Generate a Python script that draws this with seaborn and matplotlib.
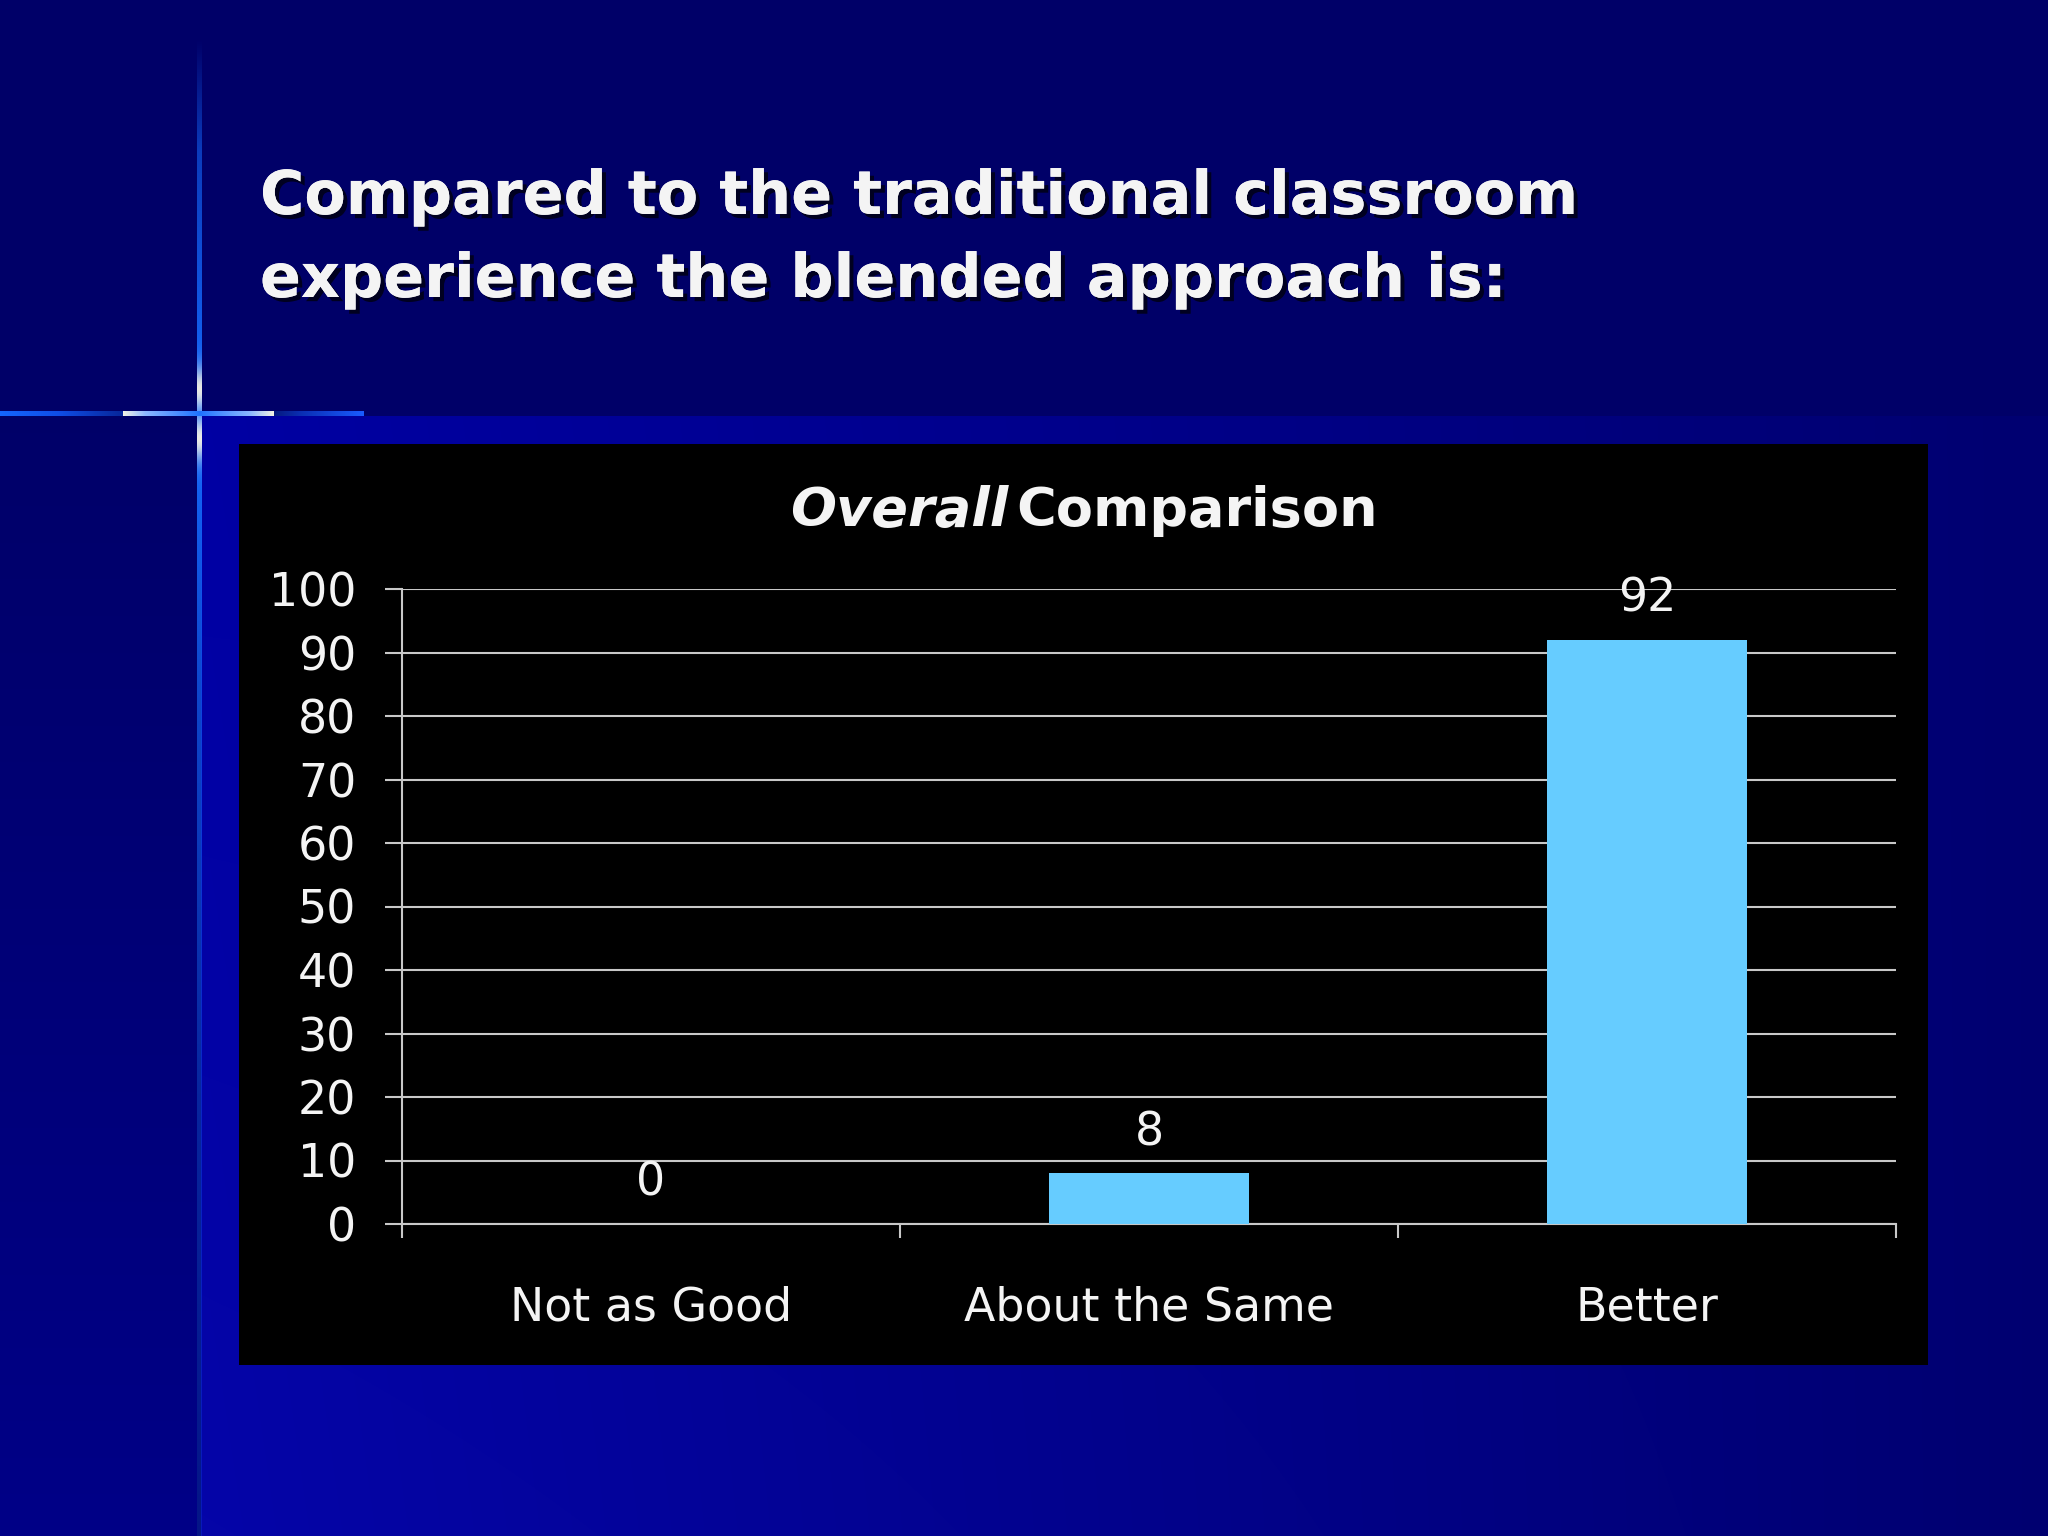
import numpy as np
import matplotlib
matplotlib.use('Agg')
import matplotlib.pyplot as plt
import matplotlib.patheffects as pe
from matplotlib.ticker import FixedLocator
import seaborn as sns

# ---- data ----
categories = ['Not as Good', 'About the Same', 'Better']
percent = [0, 8, 92]
y_ticks = [0, 10, 20, 30, 40, 50, 60, 70, 80, 90, 100]
title_lines = ['Compared to the traditional classroom',
               'experience the blended approach is:']

BAR = '#66CCFF'
GRID = '#c8c8c8'
TXT = '#f4f4f4'

sns.set_theme(style='white')
plt.rcParams['font.family'] = ['DejaVu Sans']

W, H = 2048, 1536
fig = plt.figure(figsize=(W / 100, H / 100), dpi=100)


def slide_background():
    img = np.zeros((H, W, 3))
    img[..., 2] = 0.41
    # lighter panel lower right
    xs = np.arange(W)
    ys = np.arange(H)
    f = np.clip((xs - 201) / (W - 201), 0, 1)
    g = (ys - 416) / (H - 416)
    blue = 0.64 - 0.20 * f[None, :] + 0.02 * g[:, None] * (1 - f[None, :])
    rg = 0.02 * (1 - f[None, :]) * np.clip(g[:, None], 0, 1)
    sub = (slice(416, H), slice(201, W))
    img[sub + (2,)] = blue[416:, 201:]
    img[sub + (0,)] = rg[416:, 201:]
    img[sub + (1,)] = rg[416:, 201:]
    # left strip lightens a little toward the bottom
    img[416:, :197, 2] = 0.41 + 0.12 * np.clip(g[416:, None], 0, 1)

    # vertical line
    d = ys - 413
    a = np.interp(ys, [40, 150, 413, 700, 1100, 1536], [0, 0.55, 1, 0.65, 0.35, 0.2])
    w = np.exp(-((np.abs(d) - 25) / 22.0) ** 2)
    col = np.array([0.08, 0.42, 1.0])[None, :] * (1 - w[:, None]) + np.array([0.95, 0.95, 0.92])[None, :] * w[:, None]
    for x in range(197, 202):
        img[:, x, :] = img[:, x, :] * (1 - a[:, None]) + col * a[:, None]

    # horizontal line
    hx = np.arange(0, 364)
    kx = [0, 60, 118, 122, 123, 145, 199, 250, 273, 274, 300, 363]
    kr = [0.08, 0.06, 0.03, 0.03, 0.95, 0.55, 0.12, 0.55, 0.95, 0.02, 0.04, 0.10]
    kg = [0.40, 0.30, 0.16, 0.16, 0.95, 0.72, 0.45, 0.72, 0.95, 0.10, 0.18, 0.36]
    kb = [1.00, 0.90, 0.62, 0.62, 0.90, 1.00, 1.00, 1.00, 0.90, 0.50, 0.70, 1.00]
    hcol = np.stack([np.interp(hx, kx, kr), np.interp(hx, kx, kg), np.interp(hx, kx, kb)], axis=1)
    for y in range(411, 416):
        img[y, :364, :] = hcol
    return np.clip(img, 0, 1)


bg = fig.add_axes([0, 0, 1, 1], zorder=-10)
bg.imshow(slide_background(), aspect='auto', interpolation='nearest')
bg.set_axis_off()

# slide title with drop shadow
shadow = [pe.withSimplePatchShadow(offset=(3, -3), shadow_rgbFace='#000018', alpha=0.9), pe.Normal()]
for i, line in enumerate(title_lines):
    fig.text(260 / W, 1 - (214 + 83 * i) / H, line, color=TXT, fontsize=43.5,
             fontweight='bold', va='baseline', ha='left', path_effects=shadow)

# black chart panel
panel = fig.add_axes([239 / W, 1 - 1365 / H, (1928 - 239) / W, (1365 - 444) / H], zorder=-5)
panel.set_facecolor('black')
panel.set_xticks([])
panel.set_yticks([])
for s in panel.spines.values():
    s.set_visible(False)

# chart title
fig.text(1008 / W, 1 - 526 / H, 'Overall', color=TXT, fontsize=39, fontweight='bold',
         fontstyle='italic', ha='right', va='baseline')
fig.text(1016 / W, 1 - 526 / H, 'Comparison', color=TXT, fontsize=39, fontweight='bold',
         ha='left', va='baseline')

# bar chart
ax = fig.add_axes([402 / W, 1 - 1224 / H, (1896 - 402) / W, (1224 - 589) / H])
ax.set_facecolor('none')
sns.barplot(x=categories, y=percent, color=BAR, saturation=1, width=0.4, ax=ax,
            edgecolor='none', zorder=3)
ax.set_ylim(0, 100)
ax.set_xlim(-0.5, len(categories) - 0.5)
ax.set_yticks(y_ticks)
ax.yaxis.grid(True, color=GRID, lw=1.5)
ax.xaxis.grid(False)
ax.set_axisbelow(True)
for side in ['top', 'right']:
    ax.spines[side].set_visible(False)
for side in ['left', 'bottom']:
    ax.spines[side].set_color(GRID)
    ax.spines[side].set_linewidth(1.5)

ax.tick_params(axis='y', which='major', direction='out', length=12, width=1.5, color=GRID,
               labelcolor=TXT, labelsize=33, pad=21, left=True)
ax.tick_params(axis='x', which='major', length=0, labelcolor=TXT, labelsize=33, pad=44)
ax.xaxis.set_minor_locator(FixedLocator(np.arange(len(categories) + 1) - 0.5))
ax.tick_params(axis='x', which='minor', direction='out', length=10, width=1.5, color=GRID, bottom=True)
ax.set_xlabel('')
ax.set_ylabel('')

ax.bar_label(ax.containers[0], labels=[str(v) for v in percent], padding=13,
             color=TXT, fontsize=33)

fig.savefig('out.png', dpi=100)
